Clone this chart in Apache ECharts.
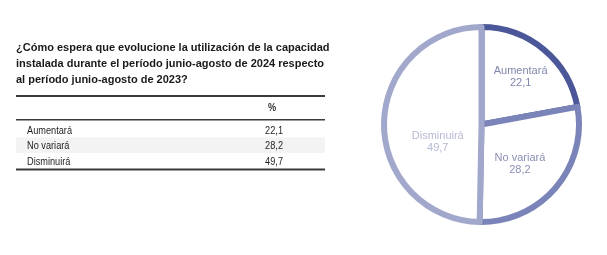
<!DOCTYPE html>
<html><head><meta charset="utf-8">
<script src="https://cdn.jsdelivr.net/npm/echarts@6/dist/echarts.min.js"></script>
<style>html,body{margin:0;padding:0;background:#fff}#c{width:607px;height:255px}</style>
</head><body><div id="c"></div>
<script>
const titleLines = [
  '¿Cómo espera que evolucione la utilización de la capacidad',
  'instalada durante el período junio-agosto de 2024 respecto',
  'al período junio-agosto de 2023?'
];
const categories = ['Aumentará', 'No variará', 'Disminuirá'];
const values = [22.1, 28.2, 49.7];
const valueHeader = '%';
const sliceColors = ['#4b5799', '#7a84b8', '#a2a8cc'];
const labelColors = ['#8087ad', '#8a90b4', '#b6bad3'];
const labelOffsets = [[6, -8], [-1, 6], [8, 18]];

const fmt = v => v.toFixed(1).replace('.', ',');
const sans = '"Liberation Sans", Arial, sans-serif';
const cond = 0.8;

const graphics = [];
graphics.push({
  type: 'text', left: 16, top: 40,
  style: { text: titleLines.join('\n'), font: 'bold 11px ' + sans, fill: '#1a1a1a', lineHeight: 16 }
});
graphics.push({ type: 'rect', shape: { x: 16, y: 95, width: 309, height: 2 }, style: { fill: '#3a3a3a' } });
graphics.push({ type: 'text', x: 272, y: 108, scaleX: cond, style: { text: valueHeader, font: 'bold 11.5px ' + sans, fill: '#333', align: 'center', verticalAlign: 'middle' } });
graphics.push({ type: 'rect', shape: { x: 16, y: 119, width: 309, height: 1.5 }, style: { fill: '#3a3a3a' } });
const rowTop = 121, rowH = 15.5;
categories.forEach((c, i) => {
  const y = rowTop + i * rowH;
  if (i % 2 === 1) graphics.push({ type: 'rect', shape: { x: 16, y: y + 1, width: 309, height: rowH }, style: { fill: '#f3f3f3' } });
  graphics.push({ type: 'text', x: 27, y: y + rowH / 2 + 2, scaleX: cond, style: { text: c, font: '11.5px ' + sans, fill: '#1e1e1e', verticalAlign: 'middle' } });
  graphics.push({ type: 'text', x: 283, y: y + rowH / 2 + 2, scaleX: cond, style: { text: fmt(values[i]), font: '11.5px ' + sans, fill: '#1e1e1e', align: 'right', verticalAlign: 'middle' } });
});
graphics.push({ type: 'rect', shape: { x: 16, y: 168.5, width: 309, height: 2 }, style: { fill: '#3a3a3a' } });

const chart = echarts.init(document.getElementById('c'), null, { renderer: 'canvas' });
chart.setOption({
  animation: false,
  graphic: graphics,
  series: [{
    type: 'pie',
    center: [481.5, 124.5],
    radius: [0, 97.5],
    startAngle: 90,
    clockwise: true,
    silent: true,
    emphasis: { disabled: true },
    data: categories.map((c, i) => ({
      name: c, value: values[i],
      itemStyle: { color: '#ffffff', borderColor: sliceColors[i], borderWidth: 6 },
      label: { color: labelColors[i], offset: labelOffsets[i] }
    })),
    label: {
      show: true, position: 'inside',
      formatter: p => p.name + '\n' + fmt(p.value),
      fontFamily: sans, fontSize: 11, lineHeight: 12, align: 'center'
    },
    labelLine: { show: false }
  }]
});
</script></body></html>
